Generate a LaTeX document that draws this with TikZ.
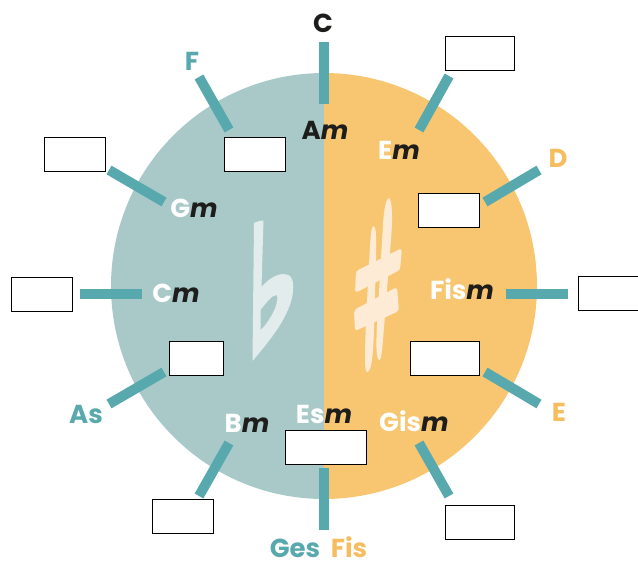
\documentclass[tikz,border=0pt]{standalone}
\usepackage{fontspec}
\setmainfont{Poppins}
\definecolor{flatside}{HTML}{A9C9C9}
\definecolor{sharpside}{HTML}{F8C671}
\definecolor{keyorange}{HTML}{F6BD60}
\definecolor{tickteal}{HTML}{58A9AE}
\definecolor{inkdark}{HTML}{1D1D1B}
\definecolor{flatsign}{HTML}{E3ECEC}
\definecolor{sharpsign}{HTML}{FDEBD6}
\tikzset{
    tick/.style={draw=tickteal, line width=10pt},
    blank/.style={draw=black, fill=white, line width=0.9pt, minimum height=34pt, inner sep=0pt},
    chord/.style={font=\fontsize{26}{26}\selectfont\bfseries, text=inkdark, inner sep=0pt, yshift=-0.7pt},
    keyname/.style={font=\fontsize{26}{26}\selectfont\bfseries, inner sep=0pt, yshift=-0.7pt}
}
\newcommand{\minorm}{{\color{inkdark}\itshape m}}
\begin{document}
\begin{tikzpicture}[x=1pt, y=-1pt]
    \useasboundingbox (0,0) rectangle (638,562);
    % the disc
    \fill[flatside] (324,73) arc[start angle=90, end angle=270, radius=213pt] -- cycle;
    \fill[sharpside] (324,73) arc[start angle=90, end angle=-90, radius=213pt] -- cycle;
    % flat sign
    \fill[flatsign, even odd rule] (254,223) .. controls (257,221) and (260,221) .. (263.5,220.5)
        -- (261.5,287) .. controls (268,279) and (281,270) .. (290,276)
        .. controls (296,282) and (293,300) .. (287,312)
        .. controls (280,328) and (266,345) .. (252.5,361) -- cycle
        (260.5,310) .. controls (266,303) and (272,295) .. (276.5,295)
        .. controls (279,297) and (276,309) .. (270,318)
        .. controls (267,323) and (264,327) .. (260.5,330) -- cycle;
    % sharp sign
    \fill[sharpsign] (373.5,226) .. controls (376,226) and (376.5,235) .. (376,260)
        -- (374,330) .. controls (373,360) and (371,372) .. (367,372)
        .. controls (364,372) and (365,350) .. (366,320)
        -- (369.5,255) .. controls (370.5,235) and (371.5,226) .. (373.5,226) -- cycle;
    \fill[sharpsign] (389,198) .. controls (392,200) and (393,215) .. (391,240)
        -- (383,340) .. controls (382,352) and (381,360) .. (379.5,360)
        .. controls (376,360) and (376,345) .. (377,325)
        -- (383,225) .. controls (384,208) and (386,199) .. (389,198) -- cycle;
    \fill[sharpsign, rounded corners=3pt] (356,271) -- (402,248) -- (400,270) -- (355,293) -- cycle;
    \fill[sharpsign, rounded corners=3pt] (354,310) -- (397,287) -- (399,311) -- (355,331) -- cycle;
    % ticks
    \coordinate (cIn) at (324,104);
    \coordinate (cOut) at (324,42);
    \coordinate (gesIn) at (324,468);
    \coordinate (gesOut) at (324,530);
    \coordinate (fIn) at (229,130);
    \coordinate (fOut) at (199,77);
    \coordinate (gIn) at (164,202);
    \coordinate (gOut) at (109,170);
    \coordinate (leftIn) at (142,294);
    \coordinate (leftOut) at (80,294);
    \coordinate (asIn) at (164,372);
    \coordinate (asOut) at (109,404);
    \coordinate (bIn) at (229,443);
    \coordinate (bOut) at (199,496);
    \coordinate (emIn) at (419,130);
    \coordinate (emOut) at (449,76);
    \coordinate (dIn) at (485,202);
    \coordinate (dOut) at (539,170);
    \coordinate (rightIn) at (506,294);
    \coordinate (rightOut) at (568,294);
    \coordinate (eIn) at (485,372);
    \coordinate (eOut) at (539,404);
    \coordinate (gisIn) at (419,443);
    \coordinate (gisOut) at (449,496);
    \draw[tick] (cIn) -- (cOut);
    \draw[tick] (gesIn) -- (gesOut);
    \draw[tick] (fIn) -- (fOut);
    \draw[tick] (gIn) -- (gOut);
    \draw[tick] (leftIn) -- (leftOut);
    \draw[tick] (asIn) -- (asOut);
    \draw[tick] (bIn) -- (bOut);
    \draw[tick] (emIn) -- (emOut);
    \draw[tick] (dIn) -- (dOut);
    \draw[tick] (rightIn) -- (rightOut);
    \draw[tick] (eIn) -- (eOut);
    \draw[tick] (gisIn) -- (gisOut);
    % empty boxes
    \node[blank, minimum width=69pt] (boxTopRight) at (479.5,53.5) {};
    \node[blank, minimum width=61pt] (boxF) at (254.5,154.5) {};
    \node[blank, minimum width=61pt] (boxTopLeft) at (74.5,154.5) {};
    \node[blank, minimum width=61pt] (boxD) at (448.5,210.5) {};
    \node[blank, minimum width=61pt] (boxLeft) at (41.5,294.5) {};
    \node[blank, minimum width=60pt] (boxRight) at (608,293) {};
    \node[blank, minimum width=54pt] (boxAs) at (196,358.5) {};
    \node[blank, minimum width=69pt] (boxE) at (444.5,358.5) {};
    \node[blank, minimum width=81pt] (boxEs) at (325.5,447) {};
    \node[blank, minimum width=61pt] (boxB) at (182.5,516.5) {};
    \node[blank, minimum width=69pt] (boxGis) at (479.5,522) {};
    % minor keys
    \node[chord] (am) at (325,130) {A\minorm};
    \node[chord, text=white] (em) at (399,150) {E\minorm};
    \node[chord, text=white] (gm) at (194,208) {G\minorm};
    \node[chord, text=white] (cm) at (176,293) {C\minorm};
    \node[chord, text=white] (fism) at (462,288) {Fis\minorm};
    \node[chord, text=white] (bm) at (247,423) {B\minorm};
    \node[chord, text=white] (esm) at (324,414) {Es\minorm};
    \node[chord, text=white] (gism) at (414,420) {Gis\minorm};
    % major keys
    \node[keyname, text=inkdark] (c) at (323,23) {C};
    \node[keyname, text=tickteal] (f) at (192,61) {F};
    \node[keyname, text=keyorange] (d) at (558,158) {D};
    \node[keyname, text=keyorange] (e) at (559,412) {E};
    \node[keyname, text=tickteal] (as) at (86,414) {As};
    \node[keyname, text=tickteal, anchor=base] (ges) at (295,557) {Ges};
    \node[keyname, text=keyorange, anchor=base] (fis) at (349,557) {Fis};
\end{tikzpicture}
\end{document}
